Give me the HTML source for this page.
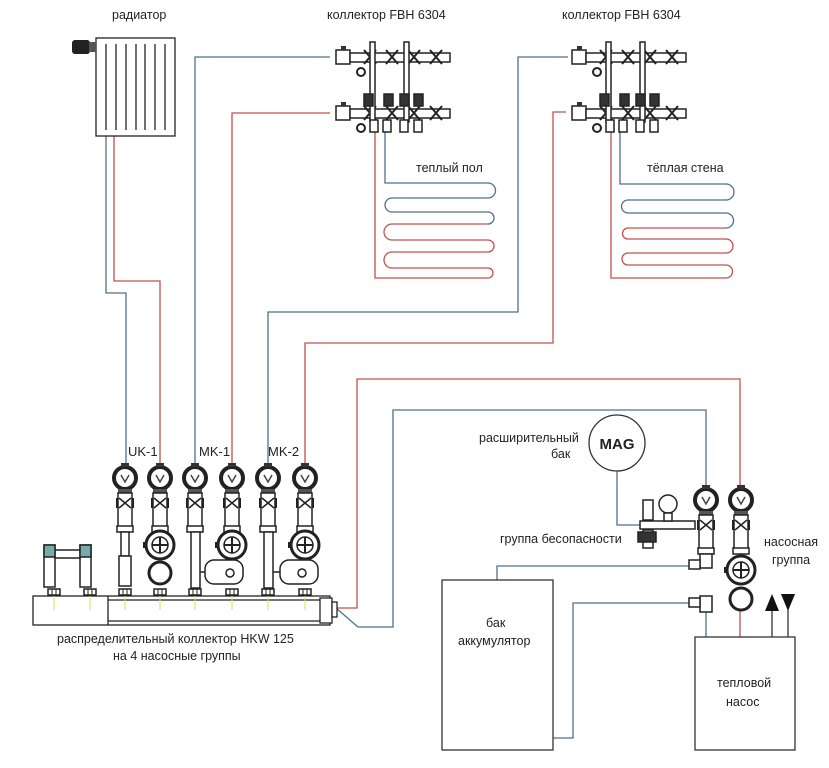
<!DOCTYPE html>
<html><head><meta charset="utf-8"><style>
html,body{margin:0;padding:0;background:#fff}
svg{display:block}
text{font-family:"Liberation Sans","DejaVu Sans",sans-serif;fill:#222}
</style></head><body>
<svg width="829" height="768" viewBox="0 0 829 768" xmlns="http://www.w3.org/2000/svg">
<defs>
<g id="head">
 <circle cx="0" cy="0" r="11" fill="#fff" stroke="#222" stroke-width="4"/>
 <rect x="-4" y="-15" width="8" height="4" fill="#333"/>
 <path d="M-4 -3 L0 4 L4 -3" stroke="#444" stroke-width="1.5" fill="none"/>
 <rect x="-7" y="11" width="14" height="4" fill="#555"/>
 <rect x="-7" y="15" width="14" height="35" fill="#fff" stroke="#222" stroke-width="1.5"/>
 <path d="M-6 20 L6 30 M6 20 L-6 30" stroke="#222" stroke-width="1.5"/>
 <rect x="-9" y="20" width="2" height="10" fill="#222"/>
 <rect x="7" y="20" width="2" height="10" fill="#222"/>
 <rect x="-8" y="48" width="16" height="6" fill="#fff" stroke="#222" stroke-width="1.5"/>
</g>
<g id="pump">
 <circle cx="0" cy="0" r="14" fill="#fff" stroke="#222" stroke-width="3"/>
 <circle cx="0" cy="0" r="8" fill="#fff" stroke="#222" stroke-width="1.5"/>
 <path d="M-8 0 H8 M0 -8 V8" stroke="#222" stroke-width="2"/>
 <rect x="-17" y="-3" width="3" height="6" fill="#222"/>
</g>
<g id="nut"><rect x="-6" y="0" width="12" height="6" fill="#fff" stroke="#222" stroke-width="1.5"/><path d="M-2 0 V6 M2 0 V6" stroke="#222"/></g>
<g id="coll">
 <rect x="0" y="0" width="14" height="14" fill="#fff" stroke="#222" stroke-width="1.5"/>
 <rect x="14" y="3" width="100" height="9" fill="#fff" stroke="#222" stroke-width="1.5"/>
 <path d="M28 0 L40 14 M40 0 L28 14 M50 0 L62 14 M62 0 L50 14 M72 0 L84 14 M84 0 L72 14 M94 0 L106 14 M106 0 L94 14" stroke="#222" stroke-width="2"/>
 <rect x="5" y="-4" width="5" height="4" fill="#333"/>
 <circle cx="25" cy="22" r="4" fill="#fff" stroke="#222" stroke-width="2"/>
</g>
</defs>

<text x="112" y="19" font-size="12.5">радиатор</text>
<text x="327" y="19" font-size="12.5">коллектор FBH 6304</text>
<text x="562" y="19" font-size="12.5">коллектор FBH 6304</text>
<text x="416" y="172" font-size="12.5">теплый пол</text>
<text x="647" y="172" font-size="12.5">тёплая стена</text>
<text x="128" y="456" font-size="13">UK-1</text>
<text x="199" y="456" font-size="13">MK-1</text>
<text x="268" y="456" font-size="13">MK-2</text>
<text x="57" y="643" font-size="12.5">распределительный коллектор HKW 125</text>
<text x="113" y="660" font-size="12.5">на 4 насосные группы</text>
<text x="479" y="442" font-size="12.5">расширительный</text>
<text x="551" y="458" font-size="12.5">бак</text>
<text x="500" y="543" font-size="12.5">группа бесопасности</text>
<text x="764" y="546" font-size="12.5">насосная</text>
<text x="772" y="564" font-size="12.5">группа</text>
<text x="486" y="627" font-size="12.5">бак</text>
<text x="458" y="645" font-size="12.5">аккумулятор</text>
<text x="717" y="687" font-size="12.5">тепловой</text>
<text x="726" y="706" font-size="12.5">насос</text>

<g fill="none" stroke="#4f6f8f" stroke-width="1.3">
 <path d="M106 136 V293 H126 V468"/>
 <path d="M330 57 H195 V468"/>
 <path d="M568 57 H518 V312 H268 V468"/>
 <path d="M336 608 L358 627 H393 V410 H706 V488"/>
 <path d="M617 471 V525 H640"/>
 <path d="M385 132 V183 H488 A7.5 7.5 0 0 1 488 198 H392 A7 7 0 0 0 392 212 H488 A6 6 0 0 1 488 224"/>
 <path d="M620 132 V184 H726 A8 8 0 0 1 726 200 H628 A6.5 6.5 0 0 0 628 213 H726 A7.5 7.5 0 0 1 726 228"/>
 <path d="M690 566 H497 V580"/>
 <path d="M690 603 H573 V738 H553"/>
 <path d="M706 612 V637"/>
 <path d="M772 610 V637 M788 610 V637" stroke="#333"/>
</g>
<g fill="none" stroke="#c0504d" stroke-width="1.3">
 <path d="M114 136 V281 H160 V468"/>
 <path d="M330 113 H232 V468"/>
 <path d="M566 112 H553 V343 H305 V468"/>
 <path d="M336 608 H357 V379 H740 V488"/>
 <path d="M488 224 H392 A8 8 0 0 0 392 240 H488 A6 6 0 0 1 488 252 H392 A8 8 0 0 0 392 268 H488 A5 5 0 0 1 488 278 H375 V132"/>
 <path d="M726 228 H628 A5.5 5.5 0 0 0 628 239 H726 A7 7 0 0 1 726 253 H628 A6 6 0 0 0 628 265 H726 A6.5 6.5 0 0 1 726 278 H611 V132"/>
 <path d="M740 610 V637"/>
</g>

<rect x="96" y="38" width="79" height="98" fill="#fff" stroke="#222" stroke-width="1.3"/>
<g stroke="#222" stroke-width="1.3">
 <path d="M106 44 V130 M116 44 V130 M126 44 V130 M136 44 V130 M145 44 V130 M155 44 V130 M165 44 V130"/>
</g>
<rect x="72" y="40" width="18" height="14" rx="3" fill="#222"/>
<rect x="89" y="42" width="7" height="10" fill="#555"/>

<use href="#coll" x="336" y="50"/>
<use href="#coll" x="336" y="106"/>
<use href="#coll" x="572" y="50"/>
<use href="#coll" x="572" y="106"/>
<g stroke="#222" stroke-width="1.5" fill="#fff">
 <rect x="370" y="42" width="5" height="80"/><rect x="404" y="42" width="5" height="80"/>
 <rect x="606" y="42" width="5" height="80"/><rect x="640" y="42" width="5" height="80"/>
 <rect x="364" y="94" width="9" height="12" fill="#333"/><rect x="384" y="94" width="9" height="12" fill="#333"/><rect x="400" y="94" width="9" height="12" fill="#333"/><rect x="414" y="94" width="9" height="12" fill="#333"/>
 <rect x="600" y="94" width="9" height="12" fill="#333"/><rect x="620" y="94" width="9" height="12" fill="#333"/><rect x="636" y="94" width="9" height="12" fill="#333"/><rect x="650" y="94" width="9" height="12" fill="#333"/>
 <rect x="370" y="120" width="8" height="12"/><rect x="383" y="120" width="8" height="12"/><rect x="400" y="120" width="8" height="12"/><rect x="414" y="120" width="8" height="12"/>
 <rect x="606" y="120" width="8" height="12"/><rect x="619" y="120" width="8" height="12"/><rect x="636" y="120" width="8" height="12"/><rect x="650" y="120" width="8" height="12"/>
</g>

<use href="#head" x="125" y="478"/>
<use href="#head" x="160" y="478"/>
<use href="#head" x="195" y="478"/>
<use href="#head" x="232" y="478"/>
<use href="#head" x="268" y="478"/>
<use href="#head" x="305" y="478"/>
<g stroke="#222" stroke-width="1.5" fill="#fff">
 <rect x="121" y="532" width="8" height="24"/>
 <rect x="119" y="556" width="12" height="30"/>
 <rect x="191" y="532" width="9" height="56"/>
 <rect x="264" y="532" width="9" height="56"/>
 <rect x="205" y="560" width="38" height="24" rx="9"/>
 <rect x="280" y="560" width="38" height="24" rx="9"/>
 <path d="M200 572 H205 M273 572 H280"/>
 <circle cx="160" cy="573" r="11" stroke-width="3"/>
 <circle cx="230" cy="573" r="4"/><circle cx="302" cy="573" r="4"/>
</g>
<use href="#pump" x="160" y="545"/>
<use href="#pump" x="232" y="545"/>
<use href="#pump" x="305" y="545"/>
<g stroke="#222" stroke-width="1.5" fill="#fff">
 <rect x="44" y="545" width="11" height="42"/><rect x="80" y="545" width="11" height="42"/>
 <rect x="55" y="550" width="25" height="8"/>
 <rect x="44" y="545" width="11" height="12" fill="#7aa"/><rect x="80" y="545" width="11" height="12" fill="#7aa"/>
</g>
<g stroke="#222" stroke-width="1.3" fill="#fff">
 <rect x="33" y="596" width="297" height="29"/>
 <path d="M108 600 H320 M108 621 H320 M108 596 V625"/>
 <rect x="320" y="598" width="12" height="25"/>
 <rect x="332" y="602" width="5" height="15"/>
</g>
<g>
 <use href="#nut" x="54" y="589"/><use href="#nut" x="90" y="589"/><use href="#nut" x="125" y="589"/><use href="#nut" x="160" y="589"/>
 <use href="#nut" x="195" y="589"/><use href="#nut" x="232" y="589"/><use href="#nut" x="268" y="589"/><use href="#nut" x="305" y="589"/>
</g>
<g stroke="#dd5" stroke-width="1"><path d="M54 596 V610 M90 596 V610 M125 596 V610 M160 596 V610 M195 596 V610 M232 596 V610 M268 596 V610 M305 596 V610"/></g>

<circle cx="617" cy="443" r="28" fill="#fff" stroke="#333" stroke-width="1.3"/>
<text x="617" y="449" font-size="15" font-weight="bold" text-anchor="middle">MAG</text>

<use href="#head" x="706" y="500"/>
<use href="#head" x="741" y="500"/>
<use href="#pump" x="741" y="570"/>
<circle cx="741" cy="599" r="11" fill="#fff" stroke="#222" stroke-width="3"/>
<g stroke="#222" stroke-width="1.5" fill="#fff">
 <rect x="700" y="554" width="12" height="14"/>
 <rect x="689" y="560" width="11" height="9"/>
 <rect x="700" y="596" width="12" height="16"/>
 <rect x="689" y="598" width="11" height="9"/>
 <rect x="640" y="521" width="55" height="8"/>
 <rect x="643" y="500" width="10" height="20"/>
 <rect x="643" y="530" width="10" height="18"/>
 <rect x="638" y="532" width="18" height="10" fill="#333"/>
 <circle cx="668" cy="504" r="9"/>
 <rect x="664" y="513" width="8" height="8"/>
</g>
<rect x="442" y="580" width="111" height="170" fill="none" stroke="#333" stroke-width="1.3"/>
<rect x="695" y="637" width="100" height="113" fill="none" stroke="#333" stroke-width="1.3"/>
<path d="M765 611 L772 594 L779 611 Z M781 594 L795 594 L788 611 Z" fill="#111"/>
</svg>
</body></html>
